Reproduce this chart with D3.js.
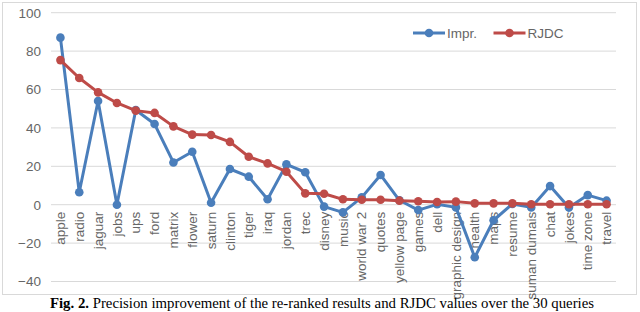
<!DOCTYPE html>
<html lang="en">
<head>
  <meta charset="UTF-8">
  <title>Precision improvement and RJDC values</title>
  <style>
    body, html { margin: 0; padding: 0; background: #fff; }
    #svg { display: block; }
  </style>
</head>
<body>
  <svg id="svg" width="640" height="312"></svg>

  <script src="https://cdn.jsdelivr.net/npm/d3@7"></script>
  <script>
    const queries = ['apple', 'radio', 'jaguar', 'jobs', 'ups', 'ford', 'matrix', 'flower', 'saturn', 'clinton',
      'tiger', 'iraq', 'jordan', 'trec', 'disney', 'music', 'world war 2', 'quotes', 'yellow page', 'games',
      'dell', 'graphic design', 'health', 'maps', 'resume', 'suman dumais', 'chat', 'jokes', 'time zone', 'travel'];

    const impr = [87, 6.5, 54, 0, 49.3, 42, 22, 27.6, 1, 18.6,
      14.6, 2.8, 21, 16.9, -1, -4, 3.8, 15.5, 2.3, -2.8,
      0.2, -1.4, -27.4, -8.1, 0.4, -1.4, 9.7, -1.5, 5, 2.1];

    const rjdc = [75.3, 66, 58.5, 53, 49, 47.8, 40.8, 36.5, 36.3, 32.7,
      25, 21.5, 17.2, 5.9, 5.7, 2.8, 2.6, 2.6, 2.1, 1.8,
      1.4, 1.6, 0.7, 0.7, 0.7, 0.2, 0.2, 0.2, 0.2, 0.2];

    const yTicks = [-40, -20, 0, 20, 40, 60, 80, 100];

    const series = [
      { name: 'Impr.', values: impr, color: '#4a7ebb' },
      { name: 'RJDC', values: rjdc, color: '#be4b48' }
    ];

    const svg = d3.select('#svg');
    const labelFont = '"Liberation Sans", Arial, sans-serif';
    const labelColor = '#666';

    // chart frame
    svg.append('rect')
      .attr('x', 2.5).attr('y', 2.5)
      .attr('width', 634).attr('height', 292)
      .attr('fill', '#fff')
      .attr('stroke', '#d9d9d9');

    const xScale = d3.scaleBand()
      .domain(queries)
      .range([51, 616]);

    const yScale = d3.scaleLinear()
      .domain([-40, 100])
      .range([281.5, 12.7]);

    // gridlines
    svg.append('g')
      .selectAll('line')
      .data(yTicks)
      .enter()
      .append('line')
      .attr('x1', 51).attr('x2', 616)
      .attr('y1', d => yScale(d)).attr('y2', d => yScale(d))
      .attr('stroke', '#d9d9d9')
      .attr('stroke-width', 1);

    // Y axis labels
    const yAxis = svg.append('g')
      .attr('transform', 'translate(41,0)')
      .call(d3.axisLeft(yScale).tickValues(yTicks).tickSize(0).tickPadding(0));
    yAxis.select('.domain').remove();
    yAxis.selectAll('text')
      .attr('fill', labelColor)
      .style('font-family', labelFont)
      .style('font-size', '13.5px');

    // X category labels (rotated, hanging below the zero line)
    const xAxis = svg.append('g')
      .attr('transform', `translate(0,${yScale(0)})`)
      .call(d3.axisBottom(xScale).tickSize(0).tickPadding(0));
    xAxis.select('.domain').remove();
    xAxis.selectAll('text')
      .attr('transform', 'translate(0,7) rotate(-90)')
      .attr('x', 0).attr('y', 0).attr('dy', '0.35em')
      .style('text-anchor', 'end')
      .attr('fill', labelColor)
      .style('font-family', labelFont)
      .style('font-size', '13.5px');

    const xc = d => xScale(d) + xScale.bandwidth() / 2;

    const linegen = d3.line()
      .x(d => xc(d.q))
      .y(d => yScale(d.v));

    series.forEach(s => {
      const pts = queries.map((q, i) => ({ q: q, v: s.values[i] }));
      svg.append('path')
        .datum(pts)
        .attr('d', linegen)
        .attr('fill', 'none')
        .attr('stroke', s.color)
        .attr('stroke-width', 3)
        .attr('stroke-linejoin', 'round');
      svg.append('g')
        .selectAll('circle')
        .data(pts)
        .enter()
        .append('circle')
        .attr('cx', d => xc(d.q))
        .attr('cy', d => yScale(d.v))
        .attr('r', 4.3)
        .attr('fill', s.color);
    });

    // legend
    const legend = svg.append('g').attr('transform', 'translate(413,33)');
    series.forEach((s, i) => {
      const g = legend.append('g').attr('transform', `translate(${i * 80.5},0)`);
      g.append('line')
        .attr('x1', 0).attr('x2', 32)
        .attr('y1', 0).attr('y2', 0)
        .attr('stroke', s.color)
        .attr('stroke-width', 3);
      g.append('circle')
        .attr('cx', 16).attr('cy', 0).attr('r', 4.3)
        .attr('fill', s.color);
      g.append('text')
        .attr('x', 34).attr('y', 0).attr('dy', '0.35em')
        .attr('fill', labelColor)
        .style('font-family', labelFont)
        .style('font-size', '13.5px')
        .text(s.name);
    });

    // caption
    const caption = svg.append('text')
      .attr('x', 322).attr('y', 308)
      .attr('text-anchor', 'middle')
      .style('font-family', '"Liberation Serif", "Times New Roman", serif')
      .style('font-size', '14.8px')
      .attr('fill', '#000');
    caption.append('tspan').style('font-weight', 'bold').text('Fig. 2.');
    caption.append('tspan').text(' Precision improvement of the re-ranked results and RJDC values over the 30 queries');
  </script>
</body>
</html>
